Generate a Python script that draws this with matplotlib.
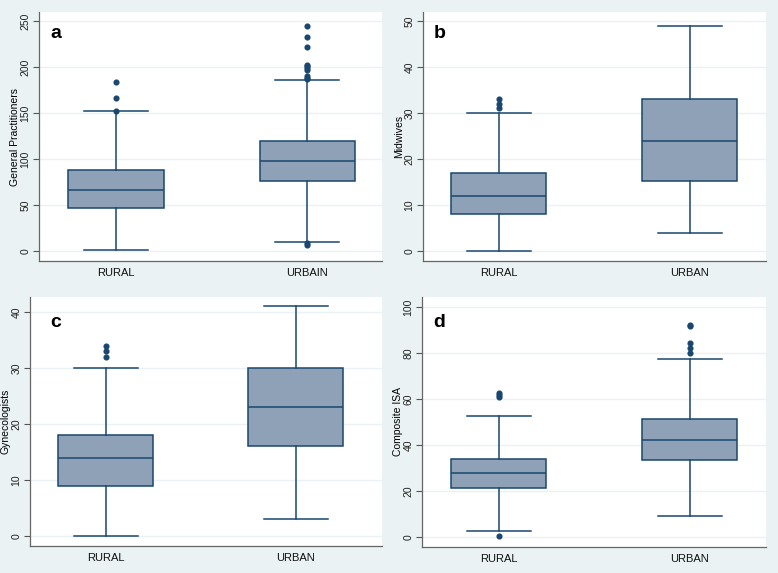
import matplotlib.pyplot as plt

plt.rcParams['font.family'] = ['Liberation Sans', 'DejaVu Sans']

# panel data: whislo, q1, median, q3, whishi
groups_ab = ["RURAL", "URBAIN"]
groups = ["RURAL", "URBAN"]

gp_rural = [1, 47, 66, 88.5, 152.5]
gp_urban = [10, 76, 98, 120, 186]
gp_rural_out = [152.5, 166, 184]
gp_urban_out = [7, 8.5, 186.5, 188, 190, 197, 199, 201, 202, 222, 233, 245]

mw_rural = [0, 8, 12, 17, 30]
mw_urban = [4, 15.2, 24, 33, 49]
mw_rural_out = [31, 32, 33]
mw_urban_out = []

gy_rural = [0, 9, 14, 18, 30]
gy_urban = [3, 16, 23, 30, 41]
gy_rural_out = [32, 33, 34]
gy_urban_out = []

isa_rural = [2.4, 21.2, 27.7, 34.1, 52.8]
isa_urban = [9, 33.5, 42, 51.4, 77.6]
isa_rural_out = [0.6, 60.8, 61.8, 62.6]
isa_urban_out = [79.8, 82.1, 84.5, 91.6, 92.2]

bg = '#EAF2F3'
navy = '#1A476F'
fill = '#8FA1B6'

fig = plt.figure(figsize=(7.78, 5.73), dpi=100, facecolor=bg)
W, H = 778, 573


def make_stats(vals, outs, label):
    lo, q1, med, q3, hi = vals
    return dict(whislo=lo, q1=q1, med=med, q3=q3, whishi=hi, fliers=outs, label=label)


def panel(rect, rural, urban, rout, uout, labels, ylabel, letter, yticks, ylim, xlim,
          letter_pos):
    l, t, r, b = rect
    ax = fig.add_axes([l / W, 1 - b / H, (r - l) / W, (b - t) / H])
    ax.set_facecolor('white')
    stats = [make_stats(rural, rout, labels[0]), make_stats(urban, uout, labels[1])]
    ax.bxp(stats, positions=[1, 2], widths=0.5, capwidths=0.335, patch_artist=True,
           boxprops=dict(facecolor=fill, edgecolor=navy, linewidth=1.1),
           medianprops=dict(color=navy, linewidth=1.1),
           whiskerprops=dict(color=navy, linewidth=1.1),
           capprops=dict(color=navy, linewidth=1.1),
           flierprops=dict(marker='o', markerfacecolor=navy, markeredgecolor=navy,
                           markersize=3.4, linestyle='none'))
    ax.set_xlim(*xlim)
    ax.set_ylim(*ylim)
    ax.set_yticks(yticks)
    ax.set_yticklabels([str(v) for v in yticks], rotation=90, va='center', fontsize=7.5,
                       color='#222222')
    ax.tick_params(axis='y', length=4, width=0.8, color='#555555', pad=2)
    ax.tick_params(axis='x', length=0, pad=5, labelsize=8, labelcolor='#111111')
    ax.grid(axis='y', color=bg, linewidth=1.0)
    ax.set_axisbelow(True)
    for s in ['top', 'right']:
        ax.spines[s].set_visible(False)
    for s in ['left', 'bottom']:
        ax.spines[s].set_color('#666666')
        ax.spines[s].set_linewidth(0.9)
    ax.set_ylabel(ylabel, fontsize=7.5, labelpad=0.5)
    ax.text(letter_pos[0], letter_pos[1], letter, transform=ax.transAxes,
            fontsize=14, fontweight='bold', va='baseline', ha='left')
    return ax


panel((39, 12, 382, 261), gp_rural, gp_urban, gp_rural_out, gp_urban_out, groups_ab,
      "General Practitioners", "a", [0, 50, 100, 150, 200, 250], (-10.9, 259.8),
      (0.597, 2.39), (0.032, 0.894))
panel((423, 12, 766, 261), mw_rural, mw_urban, mw_rural_out, mw_urban_out, groups,
      "Midwives", "b", [0, 10, 20, 30, 40, 50], (-2.17, 51.96),
      (0.604, 2.40), (0.03, 0.897))
panel((30, 297, 382, 546), gy_rural, gy_urban, gy_rural_out, gy_urban_out, groups,
      "Gynecologists", "c", [0, 10, 20, 30, 40], (-1.79, 42.68),
      (0.6, 2.453), (0.057, 0.881))
panel((422, 297, 766, 547), isa_rural, isa_urban, isa_rural_out, isa_urban_out, groups,
      "Composite ISA", "d", [0, 20, 40, 60, 80, 100], (-4.35, 104.35),
      (0.598, 2.40), (0.032, 0.88))

fig.savefig('out.png', dpi=100, facecolor=bg)
